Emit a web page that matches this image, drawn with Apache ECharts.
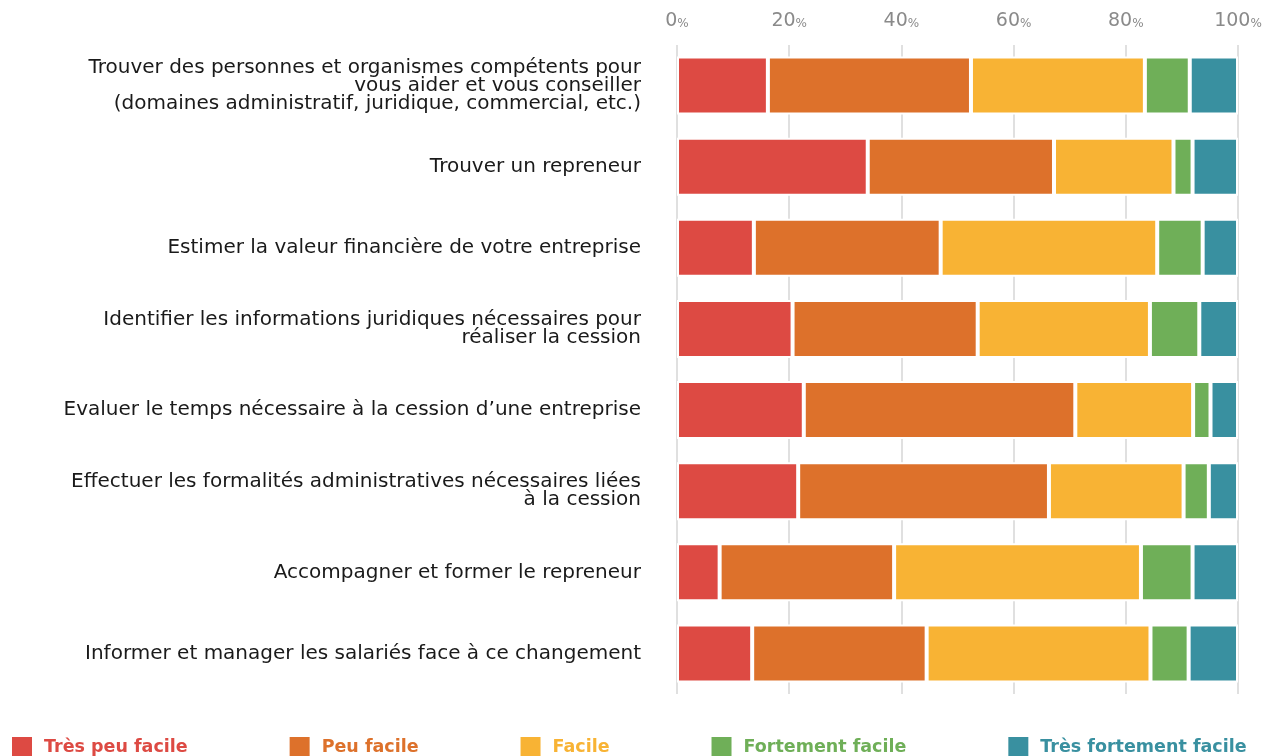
<!DOCTYPE html>
<html>
<head>
<meta charset="utf-8">
<script src="https://cdn.jsdelivr.net/npm/echarts@6/dist/echarts.min.js"></script>
<style>
  html, body { margin: 0; padding: 0; background: #fff; }
  #chart { width: 1269px; height: 756px; }
</style>
</head>
<body>
<div id="chart"></div>
<script>
// Libellés des questions (de haut en bas)
const categories = [
  'Trouver des personnes et organismes compétents pour\nvous aider et vous conseiller\n(domaines administratif, juridique, commercial, etc.)',
  'Trouver un repreneur',
  'Estimer la valeur financière de votre entreprise',
  'Identifier les informations juridiques nécessaires pour\nréaliser la cession',
  'Evaluer le temps nécessaire à la cession d’une entreprise',
  'Effectuer les formalités administratives nécessaires liées\nà la cession',
  'Accompagner et former le repreneur',
  'Informer et manager les salariés face à ce changement'
];

const seriesNames = [ 'Très peu facile', 'Peu facile', 'Facile', 'Fortement facile', 'Très fortement facile' ];
const seriesColors = [ '#DD4A43', '#DD712B', '#F8B334', '#6FAF58', '#3990A0' ];

// Valeurs en %
const tresPeuFacile = [ 16.2, 34.0, 13.7, 20.6, 22.6, 21.6, 7.6, 13.4 ];
const peuFacile = [ 36.2, 33.2, 33.3, 33.0, 48.4, 44.7, 31.1, 31.1 ];
const facile = [ 31.0, 21.3, 38.6, 30.7, 21.0, 24.0, 44.0, 39.9 ];
const fortementFacile = [ 8.0, 3.4, 8.1, 8.8, 3.1, 4.5, 9.2, 6.8 ];
const tresFortementFacile = [ 8.6, 8.1, 6.3, 6.9, 4.9, 5.2, 8.1, 8.8 ];

const xTicks = [ 0, 20, 40, 60, 80, 100 ];

const allValues = [ tresPeuFacile, peuFacile, facile, fortementFacile, tresFortementFacile ];
const FONT = 'DejaVu Sans';

const chart = echarts.init( document.getElementById( 'chart' ) );

const series = seriesNames.map( ( name, i ) => ( {
  name: name,
  type: 'bar',
  stack: 'total',
  barWidth: 58,
  itemStyle: {
    color: seriesColors[ i ],
    borderColor: '#fff',
    borderWidth: 2 // espace blanc entre les segments
  },
  emphasis: { disabled: true },
  data: allValues[ i ]
} ) );

chart.setOption( {
  animation: false,
  textStyle: { fontFamily: FONT },
  grid: { left: 677, right: 31, top: 45, bottom: 62 },
  xAxis: {
    type: 'value',
    position: 'top',
    min: xTicks[ 0 ],
    max: xTicks[ xTicks.length - 1 ],
    interval: 20,
    axisLine: { show: false },
    axisTick: { show: false },
    splitLine: { lineStyle: { color: '#e0e0e0', width: 2 } },
    axisLabel: {
      margin: 14,
      formatter: ( v ) => `{v|${ v }}{p|%}`,
      rich: {
        v: { fontFamily: FONT, fontSize: 19, color: '#8a8a8a' },
        p: { fontFamily: FONT, fontSize: 12, color: '#8a8a8a', padding: [ 4, 0, 0, 0 ] }
      }
    }
  },
  yAxis: {
    type: 'category',
    inverse: true,
    data: categories,
    axisLine: { show: false },
    axisTick: { show: false },
    axisLabel: {
      margin: 36,
      align: 'right',
      fontFamily: FONT,
      fontSize: 20,
      lineHeight: 18,
      color: '#1a1a1a'
    }
  },
  legend: {
    left: 10,
    top: 735,
    padding: 0,
    itemWidth: 22,
    itemHeight: 22,
    itemGap: 100,
    icon: 'rect',
    data: seriesNames.map( ( name, i ) => ( {
      name: name,
      textStyle: {
        color: seriesColors[ i ],
        fontFamily: FONT,
        fontWeight: 'bold',
        fontSize: 17.5,
        padding: [ 0, 0, 0, 6 ]
      }
    } ) )
  },
  series: series
} );
</script>
</body>
</html>
